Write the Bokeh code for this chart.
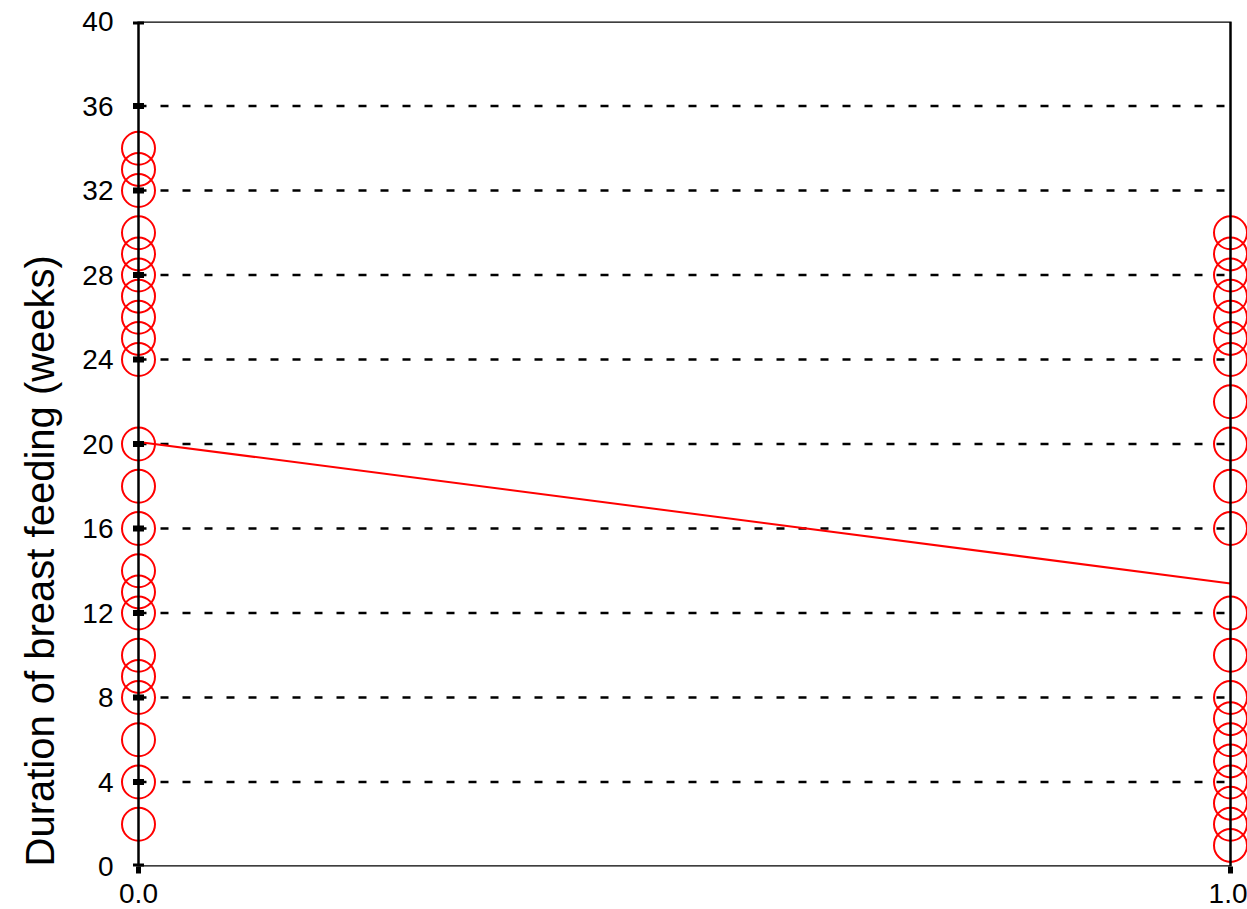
from bokeh.plotting import figure
from bokeh.models import Range1d, FixedTicker, BoxAnnotation, Title
from bokeh.embed import file_html
from bokeh.resources import INLINE

# ---- data ----
group0_y = [34, 33, 32, 30, 29, 28, 27, 26, 25, 24, 20, 18, 16, 14, 13, 12, 10, 9, 8, 6, 4, 2]
group1_y = [30, 29, 28, 27, 26, 25, 24, 22, 20, 18, 16, 12, 10, 8, 7, 6, 5, 4, 3, 2, 1]
x_groups = [0.0, 1.0]
fit_x = [0.0, 1.0]
fit_y = [20.1, 13.4]
y_ticks = [0, 4, 8, 12, 16, 20, 24, 28, 32, 36, 40]
x_ticks = [0, 1]
x_tick_labels = ["0.0", "1.0"]
y_label = "Duration of breast feeding (weeks)"

FONT = "Liberation Sans"
RED = "#ff0000"

p = figure(width=1247, height=909, frame_width=1127, frame_height=845,
           x_range=Range1d(-18 / 1092, 1 + 17 / 1092), y_range=Range1d(0, 40),
           output_backend="svg", toolbar_location=None,
           min_border_left=120, min_border_right=0, min_border_top=21, min_border_bottom=43)
p.outline_line_color = None
p.xgrid.visible = False
p.ygrid.visible = False
p.background_fill_color = "white"
p.border_fill_color = "white"

# dashed horizontal grid lines between the axis lines
grid_y = y_ticks[1:-1]
p.segment(x0=[x_groups[0]] * len(grid_y), x1=[x_groups[1]] * len(grid_y),
          y0=grid_y, y1=grid_y, line_color="black", line_width=2.5, line_dash="8 14")

# fit line
p.line(fit_x, fit_y, line_color=RED, line_width=2)

# points
p.scatter([x_groups[0]] * len(group0_y), group0_y, marker="circle", size=33,
          fill_color=None, line_color=RED, line_width=2)
p.scatter([x_groups[1]] * len(group1_y), group1_y, marker="circle", size=33,
          fill_color=None, line_color=RED, line_width=2)

# tick marks on the x=0 axis line
p.scatter([x_groups[0]] * len(y_ticks), y_ticks, marker="dash", size=11,
          line_color="black", line_width=6)

# frame box from 0..1 and 0..40
p.add_layout(BoxAnnotation(left=x_groups[0], right=x_groups[1], bottom=y_ticks[0], top=y_ticks[-1],
                           fill_alpha=0, line_color="black", line_alpha=1.0, line_width=2.5))

# y axis
ya = p.yaxis[0]
ya.ticker = FixedTicker(ticks=y_ticks)
ya.axis_line_color = None
ya.major_tick_line_color = None
ya.minor_tick_line_color = None
ya.major_label_standoff = 1
ya.major_label_text_font = FONT
ya.major_label_text_font_size = "28px"
ya.major_label_text_color = "black"

# y axis title, aligned to the bottom of the axis as in the reference
p.add_layout(Title(text=y_label, align="left", vertical_align="top", text_font=FONT,
                   text_font_size="40px", text_font_style="normal", text_color="black",
                   standoff=32), "left")

# x axis
xa = p.xaxis[0]
xa.ticker = FixedTicker(ticks=x_ticks)
xa.major_label_overrides = {t: lab for t, lab in zip(x_ticks, x_tick_labels)}
xa.axis_line_color = None
xa.minor_tick_line_color = None
xa.major_tick_in = 0
xa.major_tick_out = 7
xa.major_tick_line_width = 5
xa.major_tick_line_color = "black"
xa.major_label_standoff = 10
xa.major_label_text_font = FONT
xa.major_label_text_font_size = "28px"
xa.major_label_text_color = "black"

open("out.html", "w").write(file_html(p, INLINE))
